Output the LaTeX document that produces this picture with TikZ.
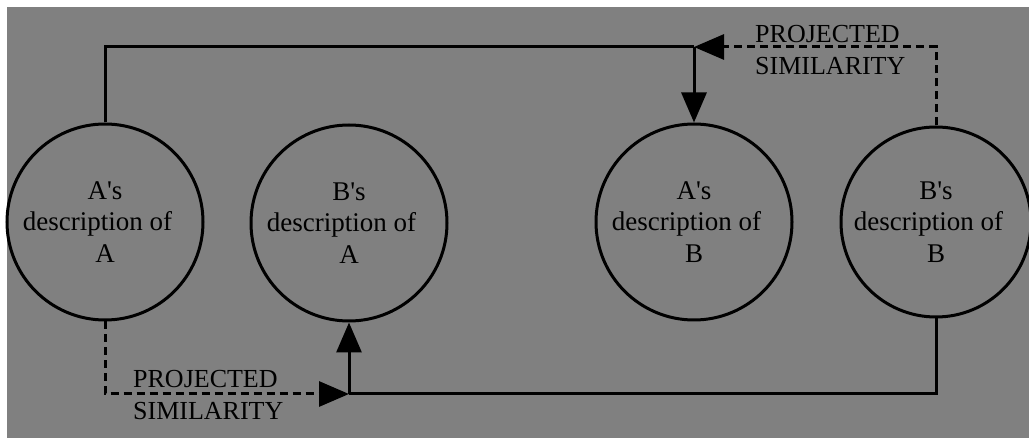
\documentclass[tikz,border=0pt]{standalone}
\usepackage{fontspec}
\setmainfont{Liberation Serif}
\usetikzlibrary{arrows.meta}
\definecolor{bggray}{RGB}{128,128,128}
\begin{document}
\begin{tikzpicture}[x=1pt,y=-1pt,
  desc/.style={circle, draw, line width=3pt, minimum size=196pt, inner sep=0pt,
    align=center, font=\fontsize{27}{31.5}\selectfont},
  conn/.style={line width=3pt},
  proj/.style={line width=3pt, dash pattern=on 8pt off 5pt},
  arrowed/.style={-{Triangle[length=30pt,width=25pt]}},
  lbl/.style={anchor=north west, inner sep=0pt, align=left,
    font=\fontsize{26}{32}\selectfont}]
\useasboundingbox (0,0) rectangle (1029,438);
\fill[white] (0,0) rectangle (1029,438);
\fill[bggray] (7,7) rectangle (1029,438);

\node[desc] (aa) at (105,222) {A\textquotesingle s\\description of\rule{15pt}{0pt}\\A};
\node[desc] (ba) at (349,223) {B\textquotesingle s\\description of\rule{15pt}{0pt}\\A};
\node[desc] (ab) at (694,222) {A\textquotesingle s\\description of\rule{15pt}{0pt}\\B};
\node[desc, minimum size=190pt] (bb) at (936,222) {B\textquotesingle s\\description of\rule{15pt}{0pt}\\B};

\coordinate (tj) at (694,47);
\coordinate (bj) at (349,394);

\draw[conn] (aa.north) |- (tj);
\draw[conn, arrowed] (tj) -- (ab.north);
\draw[proj, arrowed] (bb.north) |- (tj);

\draw[proj, arrowed] (aa.south) |- (bj);
\draw[conn] (bb.south) |- (bj);
\draw[conn, arrowed] (bj) -- (ba.south);

\node[lbl] (p1) at (755,25) {PROJECTED\\SIMILARITY};
\node[lbl] (p2) at (133,370) {PROJECTED\\SIMILARITY};
\end{tikzpicture}
\end{document}
